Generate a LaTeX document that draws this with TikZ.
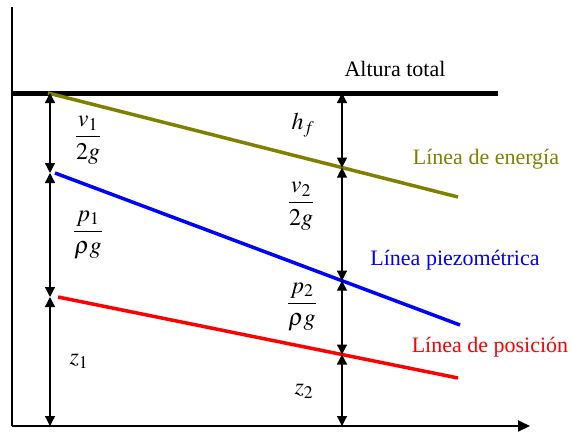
\documentclass[tikz,border=0pt]{standalone}
\usepackage{amsmath}
\usepackage{mathptmx}
\usepackage{fontspec}
\setmainfont{Liberation Serif}
\usetikzlibrary{arrows.meta}

\definecolor{energyolive}{RGB}{128,128,0}
\definecolor{piezoblue}{RGB}{0,0,255}
\definecolor{posred}{RGB}{255,0,0}

\begin{document}
\begin{tikzpicture}[x=1pt,y=-1pt,font=\rmfamily\fontsize{22}{26}\selectfont,
    dim/.style={{Triangle[length=10pt,width=10pt]}-{Triangle[length=10pt,width=10pt]},line width=1.3pt},
    head/.style={line width=3.5pt},
    term/.style={font=\fontsize{24}{28}\selectfont,inner sep=1pt}]
        \useasboundingbox (0,0) rectangle (571,432);

        % Ejes
        \coordinate (origin) at (12,426);
        \coordinate (ytop) at (12,7);
        \coordinate (xend) at (530,426);
        \draw[line width=2pt] (ytop) -- (origin);
        \draw[line width=2pt,-{Triangle[length=12pt,width=11pt]}] (origin) -- (xend);

        % Altura total
        \coordinate (topL) at (12,93);
        \coordinate (topR) at (498,93);
        \draw[line width=5pt] (topL) -- (topR);
        \node (total) at (395,69) {Altura total};

        %----------------------------------------------------------
        % Líneas de energía, piezométrica y de posición
        \coordinate (e0) at (48,93);   \coordinate (e3) at (458,197);
        \coordinate (p0) at (55,173);  \coordinate (p3) at (460,325);
        \coordinate (r0) at (58,297);  \coordinate (r3) at (458,378);
        \draw[head,energyolive] (e0) -- (e3);
        \draw[head,piezoblue] (p0) -- (p3);
        \draw[head,posred] (r0) -- (r3);

        \node[energyolive] (energy) at (486,159) {Línea de energía};
        \node[piezoblue] (piezo) at (455,260) {Línea piezométrica};
        \node[posred] (posic) at (490,347) {Línea de posición};

        %----------------------------------------------------------
        % Sección 1
        \coordinate (a0) at (50,93);
        \coordinate (a1) at (50,173);
        \coordinate (a2) at (50,297);
        \coordinate (a3) at (50,426);
        \draw[dim] (a0) -- (a1);
        \draw[dim] (a1) -- (a2);
        \draw[dim] (a2) -- (a3);
        \node[term] (v1) at (88,140) {$\dfrac{v_1}{2g}$};
        \node[term] (p1) at (88,235) {$\dfrac{p_1}{\rho g}$};
        \node[term] (z1) at (79,361) {$z_1$};

        % Sección 2
        \coordinate (b0) at (342,93);
        \coordinate (b1) at (342,167.6);
        \coordinate (b2) at (342,280.7);
        \coordinate (b3) at (342,354.5);
        \coordinate (b4) at (342,426);
        \draw[dim] (b0) -- (b1);
        \draw[dim] (b1) -- (b2);
        \draw[dim] (b2) -- (b3);
        \draw[dim] (b3) -- (b4);
        \node[term] (hf) at (303,125) {$h_f$};
        \node[term] (v2) at (301,206) {$\dfrac{v_2}{2g}$};
        \node[term] (p2) at (302,307) {$\dfrac{p_2}{\rho g}$};
        \node[term] (z2) at (304,391) {$z_2$};
    \end{tikzpicture}
\end{document}
